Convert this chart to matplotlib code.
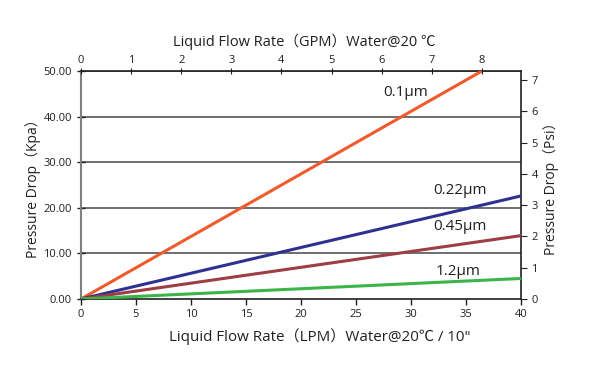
import matplotlib
matplotlib.use("Agg")
import matplotlib.pyplot as plt

plt.rcParams['font.family'] = ['Open Sans', 'Noto Sans CJK SC', 'DejaVu Sans']

# data
series_names = ["0.1μm", "0.22μm", "0.45μm", "1.2μm"]
flow_lpm = [[0, 36.45], [0, 40], [0, 40], [0, 40]]
drop_kpa = [[0, 50.0], [0, 22.6], [0, 13.9], [0, 4.5]]
colors = ["#F15A2B", "#2E3192", "#9E3D44", "#3AB54A"]
label_pos = [(31.5, 45.2), (36.9, 23.9), (36.9, 15.8), (36.3, 6.1)]

y_ticks = [0, 10, 20, 30, 40, 50]
x_ticks = [0, 5, 10, 15, 20, 25, 30, 35, 40]
gpm_ticks = [0, 1, 2, 3, 4, 5, 6, 7, 8]
psi_ticks = [0, 1, 2, 3, 4, 5, 6, 7]
gpm_max = 8.78
psi_max = 7.29

fig = plt.figure(figsize=(5.92, 3.75), dpi=100)
ax = fig.add_axes([81/592, 1-299/375, 440/592, 228/375])

for xs, ys, c in zip(flow_lpm, drop_kpa, colors):
    ax.plot(xs, ys, color=c, lw=2.2, solid_capstyle='butt', zorder=3)
for name, (lx, ly) in zip(series_names, label_pos):
    ax.text(lx, ly, name, ha='right', va='center', fontsize=11, color='#231F20')

ax.set_xlim(0, 40)
ax.set_ylim(0, 50)
ax.set_xticks(x_ticks)
ax.set_yticks(y_ticks)
ax.set_yticklabels([f"{v:.2f}" for v in y_ticks])
for v in y_ticks[1:]:
    ax.axhline(v, color='#555555', lw=1.2, zorder=1)
ax.tick_params(axis='both', labelsize=8, colors='#231F20', length=4, width=1)
ax.tick_params(axis='y', direction='inout', length=6)
ax.spines['left'].set_color('#808080')
ax.spines['left'].set_linewidth(1.5)
for side in ['bottom', 'top', 'right']:
    ax.spines[side].set_color('#231F20')
    ax.spines[side].set_linewidth(1.2)
ax.set_ylabel("Pressure Drop（Kpa）", fontsize=10, color='#231F20', labelpad=2)

fig.text(320/592, 1-337/375, "Liquid Flow Rate（LPM）Water@20℃ / 10\"",
         fontsize=10.9, color='#231F20', ha='center', va='center')
fig.text(304/592, 1-42/375, "Liquid Flow Rate（GPM）Water@20 ℃",
         fontsize=10.5, color='#231F20', ha='center', va='center')

axt = ax.twiny()
axt.set_xlim(0, gpm_max)
axt.set_xticks(gpm_ticks)
axt.tick_params(axis='x', labelsize=8, colors='#231F20', direction='inout', length=5, pad=1)
for s in axt.spines.values():
    s.set_visible(False)

axr = ax.twinx()
axr.set_ylim(0, psi_max)
axr.set_yticks(psi_ticks)
axr.tick_params(axis='y', labelsize=8, colors='#231F20', length=4)
axr.set_ylabel("Pressure Drop（Psi）", fontsize=10, color='#231F20', labelpad=4)
for s in axr.spines.values():
    s.set_visible(False)

fig.savefig("out.png", dpi=100, facecolor='white')
